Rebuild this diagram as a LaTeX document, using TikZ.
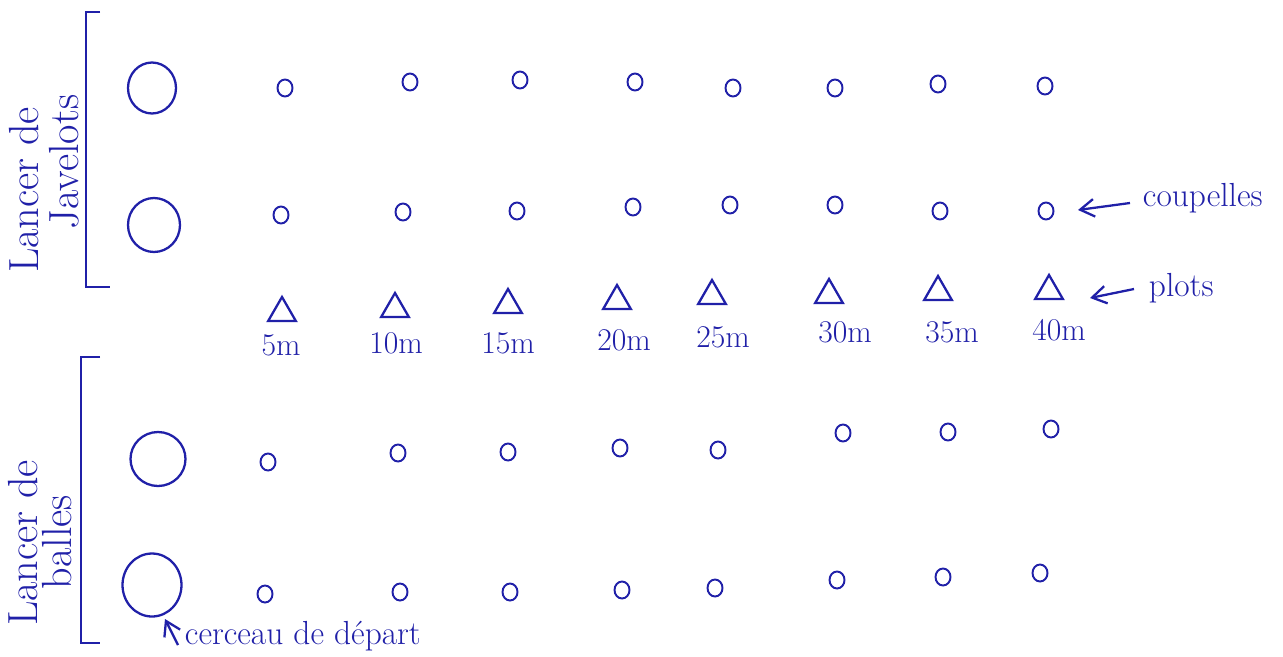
\documentclass[tikz,border=0pt]{standalone}
\usetikzlibrary{shapes.geometric,arrows.meta}
\definecolor{ink}{RGB}{32,32,168}
\begin{document}
\begin{tikzpicture}[x=0.02cm,y=-0.02cm,line width=1.1pt,draw=ink,text=ink,
  hoop/.style={draw,ellipse,inner sep=0pt,minimum width=0.96cm,minimum height=1.02cm,line width=1.3pt},
  cup/.style={draw,ellipse,inner sep=0pt,minimum width=0.3cm,minimum height=0.34cm,line width=1.1pt},
  cone/.style={draw,regular polygon,regular polygon sides=3,inner sep=0pt,minimum size=0.64cm,line width=1.3pt},
  dist/.style={font=\fontsize{18}{20}\selectfont,inner sep=0pt},
  side/.style={font=\fontsize{24}{26}\selectfont,rotate=90,inner sep=0pt},
  note/.style={font=\fontsize{19}{22}\selectfont,inner sep=0pt},
  bracket/.style={line width=1.3pt},
  pointer/.style={-{Straight Barb[length=8pt,width=10pt]},line width=1.3pt}]
\useasboundingbox (0,0) rectangle (1283,656);
% brackets
\draw[bracket] (100,12) -- (86,12) -- (86,287) -- (110,287);
\draw[bracket] (100,357) -- (81,357) -- (81,643) -- (100,643);
% side labels
\node[side] (jav1) at (24,190) {Lancer de};
\node[side] (jav2) at (64,162) {Javelots};
\node[side] (bal1) at (23,543) {Lancer de};
\node[side] (bal2) at (57,542) {balles};
% hoops
\node[hoop] (h1) at (152,88) {};
\node[hoop,minimum width=1.04cm,minimum height=1.08cm] (h2) at (154,225) {};
\node[hoop,minimum width=1.1cm,minimum height=1.08cm] (h3) at (158,459) {};
\node[hoop,minimum width=1.18cm,minimum height=1.26cm] (h4) at (152,585) {};
% row 1 cups
\node[cup] (a1) at (285,88) {};
\node[cup] (a2) at (410,82) {};
\node[cup] (a3) at (520,80) {};
\node[cup] (a4) at (635,82) {};
\node[cup] (a5) at (733,88) {};
\node[cup] (a6) at (835,88) {};
\node[cup] (a7) at (938,84) {};
\node[cup] (a8) at (1045,86) {};
% row 2 cups
\node[cup] (b1) at (281,215) {};
\node[cup] (b2) at (403,212) {};
\node[cup] (b3) at (517,211) {};
\node[cup] (b4) at (633,207) {};
\node[cup] (b5) at (730,205) {};
\node[cup] (b6) at (835,205) {};
\node[cup] (b7) at (940,211) {};
\node[cup] (b8) at (1046,211) {};
% cones
\node[cone] (c1) at (282,313) {};
\node[cone] (c2) at (395,309) {};
\node[cone] (c3) at (508,305) {};
\node[cone] (c4) at (617,301) {};
\node[cone] (c5) at (712,296) {};
\node[cone] (c6) at (829,295) {};
\node[cone] (c7) at (938,292) {};
\node[cone] (c8) at (1049,291) {};
% distances
\node[dist] (d1) at (281,345) {5m};
\node[dist] (d2) at (396,343) {10m};
\node[dist] (d3) at (508,343) {15m};
\node[dist] (d4) at (624,340) {20m};
\node[dist] (d5) at (723,337) {25m};
\node[dist] (d6) at (845,332) {30m};
\node[dist] (d7) at (952,332) {35m};
\node[dist] (d8) at (1059,330) {40m};
% row 3 cups
\node[cup] (e1) at (268,462) {};
\node[cup] (e2) at (398,453) {};
\node[cup] (e3) at (508,452) {};
\node[cup] (e4) at (620,448) {};
\node[cup] (e5) at (718,450) {};
\node[cup] (e6) at (843,433) {};
\node[cup] (e7) at (948,432) {};
\node[cup] (e8) at (1051,429) {};
% row 4 cups
\node[cup] (f1) at (265,594) {};
\node[cup] (f2) at (400,592) {};
\node[cup] (f3) at (510,592) {};
\node[cup] (f4) at (622,590) {};
\node[cup] (f5) at (715,588) {};
\node[cup] (f6) at (837,580) {};
\node[cup] (f7) at (943,577) {};
\node[cup] (f8) at (1040,573) {};
% annotations
\node[note,anchor=west] (tcup) at (1142,198) {coupelles};
\coordinate (cupT) at (1130,203);
\coordinate (cupH) at (1078,210);
\draw[pointer] (cupT) -- (cupH);
\node[note,anchor=west] (tplot) at (1148,288) {plots};
\coordinate (plT) at (1134,289);
\coordinate (plH) at (1090,298);
\draw[pointer] (plT) -- (plH);
\node[note,anchor=west] (thoop) at (184,636) {cerceau de d\'epart};
\coordinate (hpT) at (178,645);
\coordinate (hpH) at (165,619);
\draw[pointer] (hpT) -- (hpH);
\end{tikzpicture}
\end{document}
